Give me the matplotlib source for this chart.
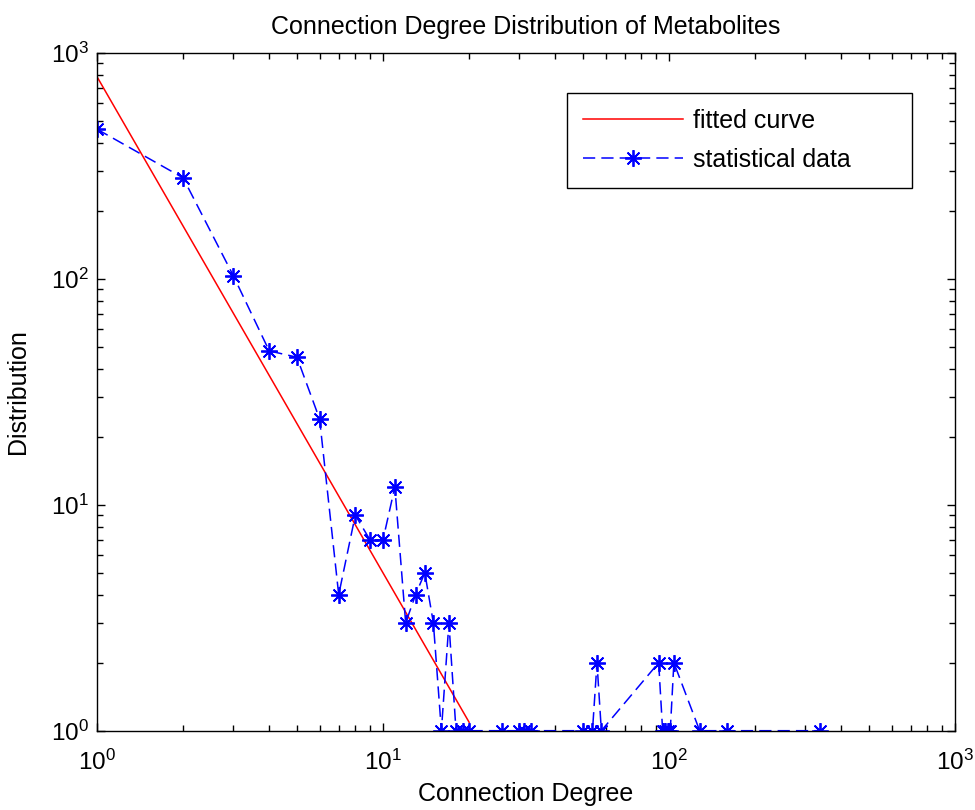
import matplotlib
matplotlib.use('Agg')
import matplotlib.pyplot as plt

# statistical data: connection degree -> number of metabolites
degree = [1, 2, 3, 4, 5, 6, 7, 8, 9, 10, 11, 12, 13, 14, 15, 16, 17, 18, 19, 20,
          26, 30, 31, 33, 50, 54, 56, 58, 92, 95, 97, 99, 101, 104, 128, 160, 338]
count = [460, 280, 103, 48, 45, 24, 4, 9, 7, 7, 12, 3, 4, 5, 3, 1, 3, 1, 1, 1,
         1, 1, 1, 1, 1, 1, 2, 1, 2, 1, 1, 1, 1, 2, 1, 1, 1]

# fitted power law (straight line on log-log axes), end points
fit_x = [1, 20]
fit_y = [785, 1.09]

plt.rcParams['font.family'] = ['Liberation Sans', 'DejaVu Sans']

fig = plt.figure(figsize=(9.75, 8.1), dpi=100)
ax = fig.add_axes([0.0995, 0.0979, 0.88, 0.8367])

ax.loglog(fit_x, fit_y, color='red', linewidth=1.1, label='fitted curve')
ax.loglog(degree, count, color='blue', linestyle=(0, (8, 4)), linewidth=1.1,
          marker=(8, 2, 0), markersize=12, markeredgewidth=1.3,
          label='statistical data')

ax.set_xlim(1, 1000)
ax.set_ylim(1, 1000)

ax.tick_params(which='both', direction='in', top=True, right=True,
               labelsize=17.5, width=1)
ax.tick_params(which='major', length=6)
ax.tick_params(which='minor', length=4)
ax.tick_params(axis='x', which='both', pad=14)
ax.tick_params(axis='y', which='both', pad=6)
for s in ax.spines.values():
    s.set_linewidth(1)

ax.set_title('Connection Degree Distribution of Metabolites', fontsize=18, pad=14)
ax.set_xlabel('Connection Degree', fontsize=18, labelpad=5)
ax.set_ylabel('Distribution', fontsize=18, labelpad=15)

leg = ax.legend(loc='upper left', bbox_to_anchor=(0.548, 0.804, 0.402, 0.137),
                mode='expand', fontsize=18, numpoints=1, handlelength=4,
                labelspacing=0.6, fancybox=False, borderpad=0.65,
                handletextpad=0.4, borderaxespad=0)
leg.get_frame().set_edgecolor('black')
leg.get_frame().set_linewidth(1)
leg.get_frame().set_alpha(1)

fig.savefig('out.png', dpi=100)
